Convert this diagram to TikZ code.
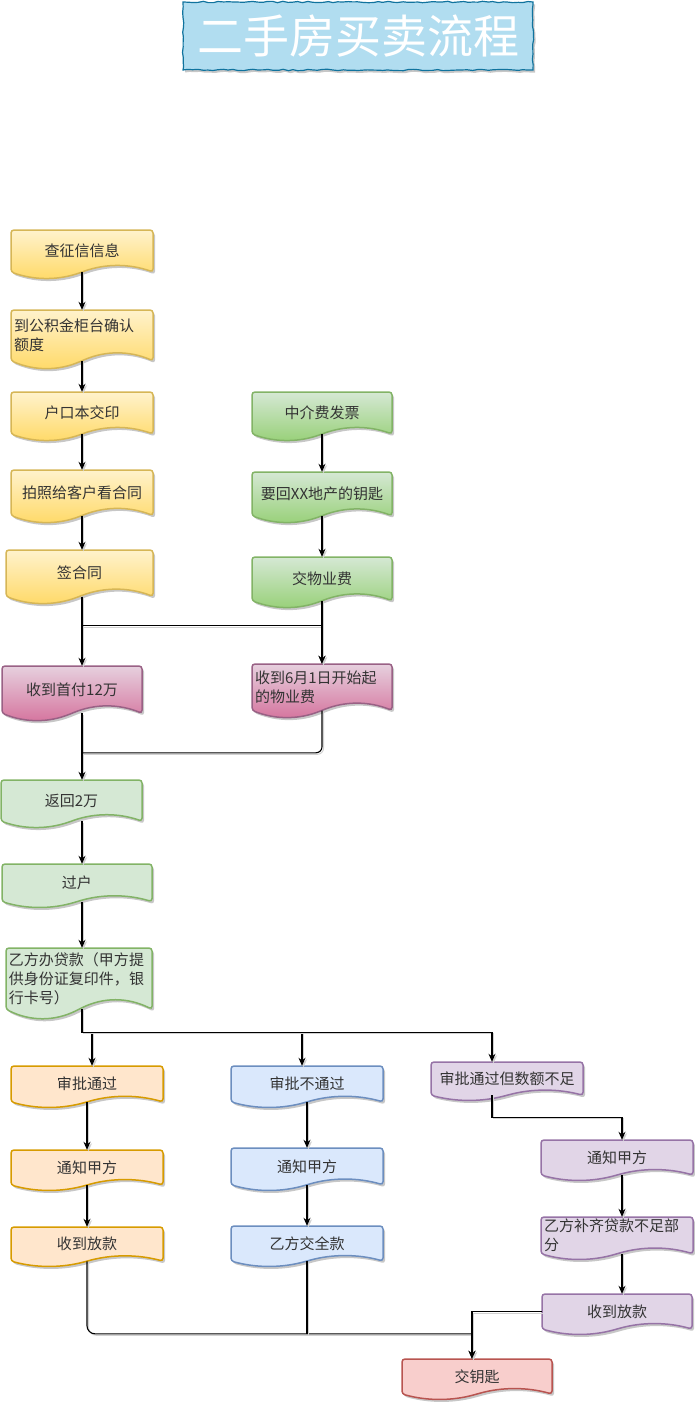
\documentclass[tikz,border=0pt]{standalone}
\usepackage{fontspec}
\setmainfont{Noto Sans CJK SC}
\usetikzlibrary{arrows.meta,shadows,decorations.pathmorphing}

\definecolor{txtgray}{HTML}{333333}
\definecolor{ylwtop}{HTML}{FFF2CC}\definecolor{ylwbot}{HTML}{FFD966}\definecolor{ylwline}{HTML}{D6B656}
\definecolor{grntop}{HTML}{D5E8D4}\definecolor{grnbot}{HTML}{97D077}\definecolor{grnline}{HTML}{82B366}
\definecolor{pnktop}{HTML}{E6D0DE}\definecolor{pnkbot}{HTML}{D5739D}\definecolor{pnkline}{HTML}{996185}
\definecolor{orgfill}{HTML}{FFE6CC}\definecolor{orgline}{HTML}{D79B00}
\definecolor{bluefill}{HTML}{DAE8FC}\definecolor{blueline}{HTML}{6C8EBF}
\definecolor{purfill}{HTML}{E1D5E7}\definecolor{purline}{HTML}{9673A6}
\definecolor{redfill}{HTML}{F8CECC}\definecolor{redline}{HTML}{B85450}
\definecolor{titlefill}{HTML}{B1DDF0}\definecolor{titleline}{HTML}{10739E}

\tikzset{
  doctext/.style={font=\fontsize{15}{19}\selectfont, text=txtgray, align=center, inner sep=0pt},
  docshadow/.style={drop shadow={shadow xshift=2pt, shadow yshift=-2.5pt, opacity=.22, fill=black}},
  ylwbox/.style={top color=ylwtop, bottom color=ylwbot, draw=ylwline},
  grnbox/.style={top color=grntop, bottom color=grnbot, draw=grnline},
  pnkbox/.style={top color=pnktop, bottom color=pnkbot, draw=pnkline},
  ltgbox/.style={fill=grntop, draw=grnline},
  orgbox/.style={fill=orgfill, draw=orgline},
  bluebox/.style={fill=bluefill, draw=blueline},
  purbox/.style={fill=purfill, draw=purline},
  redbox/.style={fill=redfill, draw=redline},
  link/.style={draw, line width=1.1pt,
    preaction={draw=black!18, line width=1pt, transform canvas={shift={(1.5pt,-1.5pt)}}}},
  conn/.style={link, -{Stealth[length=8pt,width=7pt]}}
}

% document shape: #1 node options, #2 style, #3 name, x, y, w, h (px, y downwards), text
\newcommand{\docbox}[8][]{%
  \path[#2, docshadow, line width=1.5pt, rounded corners=3]
    (#4,{#5+0.5*#7}) -- (#4,#5) -- ({#4+#6},#5) -- ({#4+#6},{#5+0.875*#7})
    .. controls ({#4+5*#6/6},{#5+0.7*#7}) and ({#4+2*#6/3},{#5+0.7*#7}) .. ({#4+#6/2},{#5+0.875*#7})
    .. controls ({#4+#6/3},{#5+1.05*#7}) and ({#4+#6/6},{#5+1.05*#7}) .. (#4,{#5+0.875*#7}) -- cycle;
  \pgfmathsetlengthmacro\docw{(#6-6)*1pt}%
  \node[doctext, text width=\docw, minimum width={#6*1pt}, minimum height={0.875*#7*1pt}, #1]
    (#3) at ({#4+#6/2},{#5+0.4375*#7}) {#8};
}

\begin{document}
\begin{tikzpicture}[x=1pt, y=-1pt]
  \useasboundingbox (0,0) rectangle (694,1405);

  % title
  \pgfmathsetseed{7}
  \path[fill=titlefill, draw=titleline, line width=1.2pt, docshadow,
    decorate, decoration={random steps, segment length=5pt, amplitude=.7pt}] (183,2) rectangle (533,70);
  \node[text=white, font=\fontsize{46}{50}\selectfont] (title) at (358,36) {二手房买卖流程};

  % left column: before signing
  \docbox{ylwbox}{zx}{11}{230}{142}{48}{查征信信息}
  \docbox[align=left]{ylwbox}{gjj}{11}{310}{142}{58}{到公积金柜台确认\\额度}
  \docbox{ylwbox}{hkb}{11}{392}{142}{48}{户口本交印}
  \docbox{ylwbox}{pz}{11}{470}{142}{52}{拍照给客户看合同}
  \docbox{ylwbox}{qht}{6}{550}{147}{53}{签合同}

  % right column: agency side
  \docbox{grnbox}{zjf}{252}{392}{140}{48}{中介费发票}
  \docbox{grnbox}{yh}{252}{472}{140}{50}{要回XX地产的钥匙}
  \docbox{grnbox}{wyf}{252}{557}{140}{50}{交物业费}

  % payments
  \docbox{pnkbox}{sf}{2}{666}{140}{54}{收到首付12万}
  \docbox[align=left]{pnkbox}{sy}{252}{664}{140}{53}{收到6月1日开始起\\的物业费}

  % transfer and loan
  \docbox{ltgbox}{fh}{1}{780}{141}{47}{返回2万}
  \docbox{ltgbox}{gh}{2}{864}{150}{43}{过户}
  \docbox[align=left]{ltgbox}{dk}{6}{948}{146}{70}{乙方办贷款（甲方提\\供身份证复印件，银\\行卡号）}

  % three outcomes
  \docbox{orgbox}{sptg}{11}{1066}{152}{41}{审批通过}
  \docbox{orgbox}{tz1}{11}{1150}{152}{40}{通知甲方}
  \docbox{orgbox}{sk1}{11}{1227}{152}{39}{收到放款}
  \docbox{bluebox}{spbtg}{231}{1066}{152}{41}{审批不通过}
  \docbox{bluebox}{tz2}{231}{1148}{152}{42}{通知甲方}
  \docbox{bluebox}{jqk}{231}{1226}{152}{40}{乙方交全款}
  \docbox{purbox}{spbz}{431}{1062}{152}{38}{审批通过但数额不足}
  \docbox{purbox}{tz3}{541}{1140}{152}{40}{通知甲方}
  \docbox[align=left]{purbox}{bq}{541}{1217}{152}{42}{乙方补齐贷款不足部\\分}
  \docbox{purbox}{sk3}{542}{1294}{150}{40}{收到放款}
  \docbox{redbox}{jys}{402}{1359}{150}{40}{交钥匙}

  % connectors, left spine
  \draw[conn] (zx.south) -- (gjj.north);
  \draw[conn] (gjj.south) -- (hkb.north);
  \draw[conn] (hkb.south) -- (pz.north);
  \draw[conn] (pz.south) -- (pz.south |- qht.north);
  \draw[conn] (qht.south -| zx.south) -- (sf.north -| zx.south);
  \draw[conn] (qht.south -| zx.south) -- ++(0,29) -| (sy.north);
  \draw[conn] (zjf.south) -- (yh.north);
  \draw[conn] (yh.south) -- (wyf.north);
  \draw[conn] (wyf.south) -- (sy.north);
  \coordinate (fhin) at (fh.north -| zx.south);
  \draw[conn] (sf.south -| zx.south) -- (fhin);
  \draw[link, rounded corners=6] (sy.south) |- ([yshift=27pt]fhin);
  \draw[conn] (fh.south -| zx.south) -- (gh.north -| zx.south);
  \draw[conn] (gh.south -| zx.south) -- (dk.north -| zx.south);

  % loan outcomes
  \draw[conn] (dk.south -| zx.south) -- ++(0,23) -| ([xshift=5pt]sptg.north);
  \draw[conn] (dk.south -| zx.south) -- ++(0,23) -| ([xshift=-5pt]spbtg.north);
  \draw[conn] (dk.south -| zx.south) -- ++(0,23) -| ([xshift=-15pt]spbz.north);
  \draw[conn] (sptg.south) -- (tz1.north);
  \draw[conn] (tz1.south) -- (sk1.north);
  \draw[conn] (spbtg.south) -- (tz2.north);
  \draw[conn] (tz2.south) -- (jqk.north);
  \draw[conn] ([xshift=-15pt]spbz.south) -- ++(0,22) -| ([xshift=5pt]tz3.north);
  \draw[conn] ([xshift=5pt]tz3.south) -- ([xshift=5pt]bq.north);
  \draw[conn] ([xshift=5pt]bq.south) -- ([xshift=5pt]sk3.north);

  % keys
  \coordinate (keyin) at ([xshift=-5pt,yshift=25pt]jys.north);
  \draw[link, rounded corners=8] (sk1.south) |- (keyin);
  \draw[link] (jqk.south) -- (jqk.south |- keyin);
  \draw[conn] (sk3.west) -| ([xshift=-5pt]jys.north);
  \draw[conn] (keyin) -- ([xshift=-5pt]jys.north);
\end{tikzpicture}
\end{document}
